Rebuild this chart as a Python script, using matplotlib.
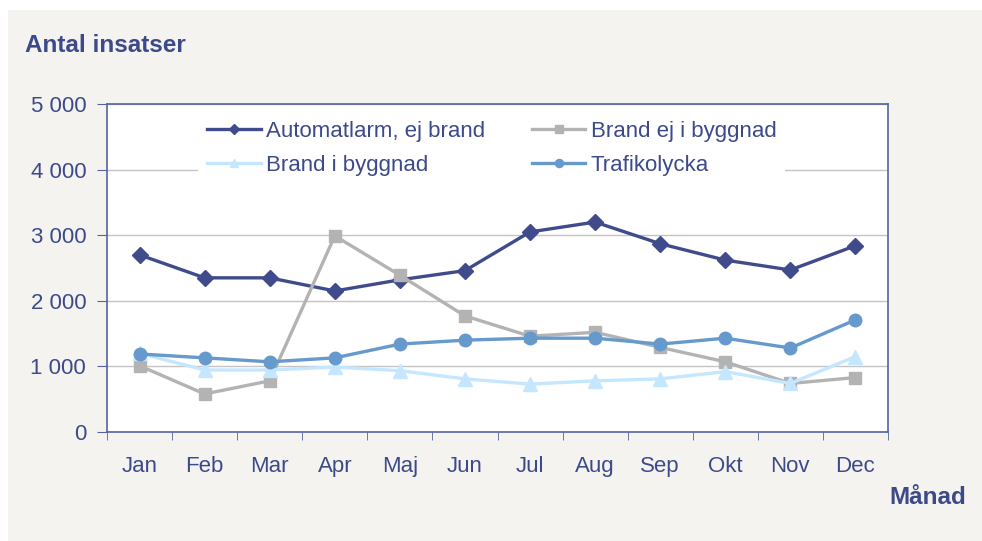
import matplotlib
matplotlib.use('Agg')
import matplotlib.pyplot as plt
import numpy as np
from matplotlib.patches import Rectangle

# Data
months = ['Jan', 'Feb', 'Mar', 'Apr', 'Maj', 'Jun', 'Jul', 'Aug', 'Sep', 'Okt', 'Nov', 'Dec']
automatlarm = [2700, 2350, 2350, 2150, 2320, 2460, 3050, 3200, 2870, 2620, 2470, 2840]
brand_ej_byggnad = [1010, 580, 780, 2990, 2390, 1770, 1460, 1520, 1290, 1070, 740, 830]
brand_i_byggnad = [1200, 945, 945, 990, 935, 810, 730, 780, 810, 920, 740, 1150]
trafikolycka = [1190, 1130, 1070, 1130, 1340, 1400, 1430, 1430, 1340, 1430, 1280, 1710]
yticks = [0, 1000, 2000, 3000, 4000, 5000]

text_col = '#3d4a8a'
spine_col = '#5562a0'
bg_col = '#f4f3ef'

plt.rcParams['font.family'] = ['Liberation Sans', 'DejaVu Sans']

fig = plt.figure(figsize=(9.82, 5.41), dpi=100, facecolor='white')
# beige panel, leaving a thin white strip at the top and left
fig.patches.append(Rectangle((8 / 982, 0), 1, 1 - 10 / 541, transform=fig.transFigure,
                             facecolor=bg_col, edgecolor='none', zorder=-1))

ax = fig.add_axes([107 / 982, 109 / 541, 781 / 982, 328 / 541])
ax.set_facecolor('white')
x = np.arange(len(months))

l1, = ax.plot(x, automatlarm, color='#3f4b8b', lw=2.4, marker='D', ms=8,
              label='Automatlarm, ej brand', zorder=3)
l2, = ax.plot(x, brand_ej_byggnad, color='#b3b3b3', lw=2.4, marker='s', ms=8.5,
              label='Brand ej i byggnad', zorder=4)
l3, = ax.plot(x, brand_i_byggnad, color='#c4e7ff', lw=2.4, marker='^', ms=9.5,
              label='Brand i byggnad', zorder=5)
l4, = ax.plot(x, trafikolycka, color='#6699cc', lw=2.4, marker='o', ms=9,
              label='Trafikolycka', zorder=6)

ax.set_xlim(-0.5, len(months) - 0.5)
ax.set_ylim(0, 5000)
ax.set_yticks(yticks)
ax.set_yticklabels([f'{v:,}'.replace(',', ' ') for v in yticks])
ax.set_xticks(x)
ax.set_xticklabels(months)
ax.set_xticks(np.arange(-0.5, len(months), 1), minor=True)
ax.tick_params(axis='x', which='major', length=0, pad=17, labelsize=16, labelcolor=text_col)
ax.tick_params(axis='x', which='minor', length=6, color=spine_col, direction='out')
ax.tick_params(axis='y', length=7, color=spine_col, pad=8, labelsize=16, labelcolor=text_col)

ax.grid(axis='y', color='#c4c4c4', lw=1)
ax.set_axisbelow(True)
for s in ax.spines.values():
    s.set_color(spine_col)
    s.set_linewidth(1.2)

leg = ax.legend(handles=[l1, l3, l2, l4], ncol=2, loc='upper left',
                bbox_to_anchor=(0.117, 0.975), frameon=True, facecolor='white',
                edgecolor='none', framealpha=1, fancybox=False, fontsize=16,
                handlelength=2.4, handletextpad=0.25, columnspacing=2.1,
                labelspacing=0.56, borderpad=0.4, borderaxespad=0, markerscale=0.65)
for t in leg.get_texts():
    t.set_color(text_col)
leg.set_zorder(7)

fig.text(25 / 982, 1 - 46 / 541, 'Antal insatser', fontsize=17.5, fontweight='bold',
         color=text_col, va='center', ha='left')
fig.text(928 / 982, 1 - 497 / 541, 'Månad', fontsize=17.5, fontweight='bold',
         color=text_col, va='center', ha='center')

fig.savefig('out.png', dpi=100, facecolor=fig.get_facecolor())
